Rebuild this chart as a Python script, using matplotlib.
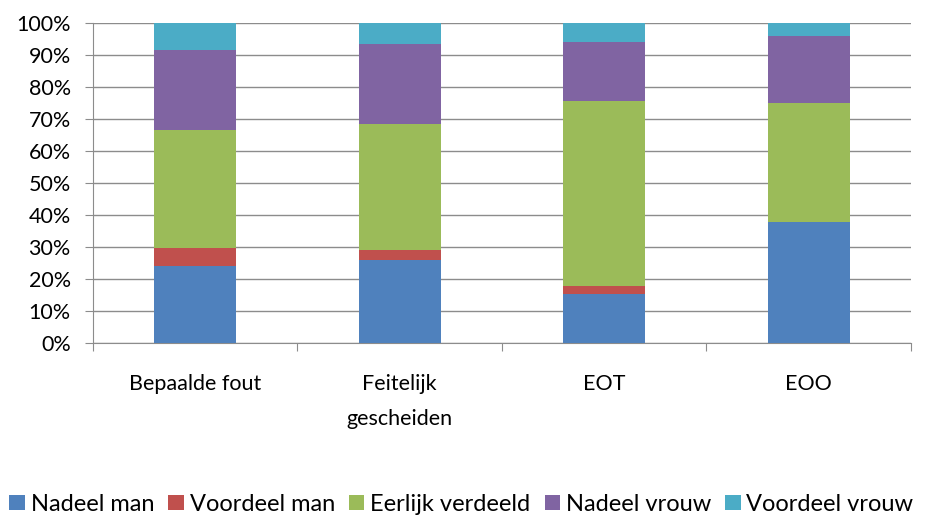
import matplotlib.pyplot as plt
import numpy as np
from matplotlib.ticker import FuncFormatter

plt.rcParams["font.family"] = ["Lato", "DejaVu Sans"]

categories = ["Bepaalde fout", "Feitelijk\ngescheiden", "EOT", "EOO"]
series = ["Nadeel man", "Voordeel man", "Eerlijk verdeeld", "Nadeel vrouw", "Voordeel vrouw"]
nadeel_man = [24.2, 26.0, 15.4, 37.9]
voordeel_man = [5.6, 3.1, 2.5, 0.0]
eerlijk = [36.9, 39.4, 57.6, 37.0]
nadeel_vrouw = [25.0, 25.0, 18.7, 21.1]
voordeel_vrouw = [8.3, 6.5, 5.8, 4.0]
colors = ["#4f81bd", "#c0504d", "#9bbb59", "#8064a2", "#4bacc6"]

fig = plt.figure(figsize=(9.28, 5.19), dpi=100)
ax = fig.add_axes((93 / 928, 1 - 343 / 519, 818 / 928, 320 / 519))

x = np.arange(len(categories))
bottom = np.zeros(len(categories))
for name, vals, c in zip(series, [nadeel_man, voordeel_man, eerlijk, nadeel_vrouw, voordeel_vrouw], colors):
    ax.bar(x, vals, 0.4, bottom=bottom, color=c, label=name, zorder=3)
    bottom += np.array(vals)

ax.set_xlim(-0.5, len(categories) - 0.5)
ax.set_ylim(0, 100)
ax.set_yticks(np.arange(0, 101, 10))
ax.yaxis.set_major_formatter(FuncFormatter(lambda v, _: f"{v:.0f}%"))
ax.grid(axis="y", color="#8c8c8c", linewidth=1, zorder=0)

ax.set_xticks(np.arange(-0.5, len(categories), 1))
ax.set_xticklabels([])
ax.set_xticks(x, minor=True)
ax.set_xticklabels(categories, minor=True, fontsize=15.5, linespacing=1.95, va="top")
ax.tick_params(axis="x", which="minor", length=0, pad=22)
ax.tick_params(axis="x", which="major", length=6, color="#8c8c8c")
ax.tick_params(axis="y", length=6, color="#8c8c8c", labelsize=15.5, pad=10)

for side in ("top", "right"):
    ax.spines[side].set_visible(False)
for side in ("left", "bottom"):
    ax.spines[side].set_color("#8c8c8c")

fig.legend(loc="lower left", bbox_to_anchor=(0.0, -0.01), ncol=5, frameon=False,
           fontsize=17, handlelength=0.65, handleheight=0.65, handletextpad=0.25,
           columnspacing=0.6, borderaxespad=0.2, borderpad=0.2)

fig.savefig("out.png", dpi=100)
